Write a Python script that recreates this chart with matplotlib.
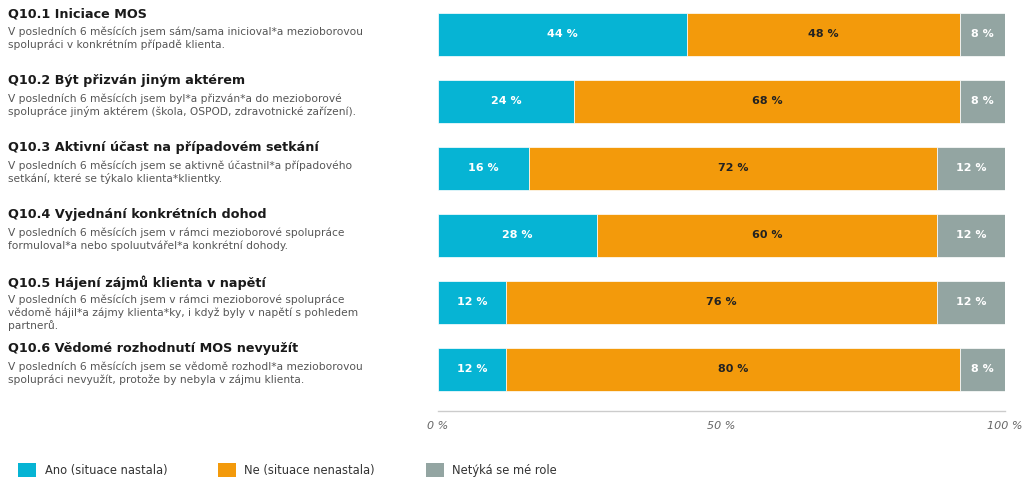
import matplotlib
matplotlib.use("Agg")
import matplotlib.pyplot as plt
from matplotlib.patches import Patch

titles = [
    "Q10.1 Iniciace MOS",
    "Q10.2 Být přizván jiným aktérem",
    "Q10.3 Aktivní účast na případovém setkání",
    "Q10.4 Vyjednání konkrétních dohod",
    "Q10.5 Hájení zájmů klienta v napětí",
    "Q10.6 Vědomé rozhodnutí MOS nevyužít",
]
descriptions = [
    "V posledních 6 měsících jsem sám/sama inicioval*a mezioborovou\nspolupráci v konkrétním případě klienta.",
    "V posledních 6 měsících jsem byl*a přizván*a do mezioborové\nspolupráce jiným aktérem (škola, OSPOD, zdravotnické zařízení).",
    "V posledních 6 měsících jsem se aktivně účastnil*a případového\nsetkání, které se týkalo klienta*klientky.",
    "V posledních 6 měsících jsem v rámci mezioborové spolupráce\nformuloval*a nebo spoluutvářel*a konkrétní dohody.",
    "V posledních 6 měsících jsem v rámci mezioborové spolupráce\nvědomě hájil*a zájmy klienta*ky, i když byly v napětí s pohledem\npartnerů.",
    "V posledních 6 měsících jsem se vědomě rozhodl*a mezioborovou\nspolupráci nevyužít, protože by nebyla v zájmu klienta.",
]
ano = [44, 24, 16, 28, 12, 12]
ne = [48, 68, 72, 60, 76, 80]
netyka = [8, 8, 12, 12, 12, 8]
series_names = ["Ano (situace nastala)", "Ne (situace nenastala)", "Netýká se mé role"]
tick_values = [0, 50, 100]
tick_labels = ["0 %", "50 %", "100 %"]

colors = ["#06b4d4", "#f39a0b", "#93a5a2"]
label_colors = ["white", "#222222", "white"]

fig = plt.figure(figsize=(10.23, 4.79), dpi=100)
ax = fig.add_axes([438 / 1023, 1 - 411 / 479, 567 / 1023, 410 / 479])

ypos = list(range(len(titles)))
bar_h = 0.64
left = [0] * len(titles)
for vals, col, lc in zip([ano, ne, netyka], colors, label_colors):
    bars = ax.barh(ypos, vals, left=left, height=bar_h, color=col,
                   edgecolor="white", linewidth=0.5)
    for b, v in zip(bars, vals):
        ax.text(b.get_x() + b.get_width() / 2, b.get_y() + b.get_height() / 2,
                f"{v} %", ha="center", va="center", color=lc,
                fontsize=8, fontweight="bold")
    left = [l + v for l, v in zip(left, vals)]

ax.set_xlim(0, 100)
ax.set_ylim(len(titles) - 1 + 0.62, -0.5)
ax.set_yticks([])
ax.set_xticks(tick_values)
ax.set_xticklabels(tick_labels, fontstyle="italic", color="#666666", fontsize=8)
ax.tick_params(axis="x", length=0, pad=7)
for s in ["top", "right", "left"]:
    ax.spines[s].set_visible(False)
ax.spines["bottom"].set_color("#cccccc")
ax.spines["bottom"].set_linewidth(1)

for i, (t, d) in enumerate(zip(titles, descriptions)):
    ytop = i - bar_h / 2
    ax.annotate(t, xy=(8, ytop), xycoords=("figure pixels", "data"),
                xytext=(0, 4), textcoords="offset points",
                ha="left", va="top", fontsize=9.2, fontweight="bold",
                color="#1a1a1a", annotation_clip=False)
    ax.annotate(d, xy=(8, ytop), xycoords=("figure pixels", "data"),
                xytext=(0, -10), textcoords="offset points",
                ha="left", va="top", fontsize=7.7, color="#555555",
                linespacing=1.22, annotation_clip=False)

handles = [Patch(facecolor=c, edgecolor="none") for c in colors]
fig.legend(handles, series_names, loc="center left",
           bbox_to_anchor=(18 / 1023, 9 / 479), ncol=3, frameon=False,
           borderpad=0, borderaxespad=0, handlelength=1.6, handleheight=1.6,
           handletextpad=0.7, columnspacing=4.4, fontsize=8.3,
           labelcolor="#333333")

fig.savefig("out.png", dpi=100)
